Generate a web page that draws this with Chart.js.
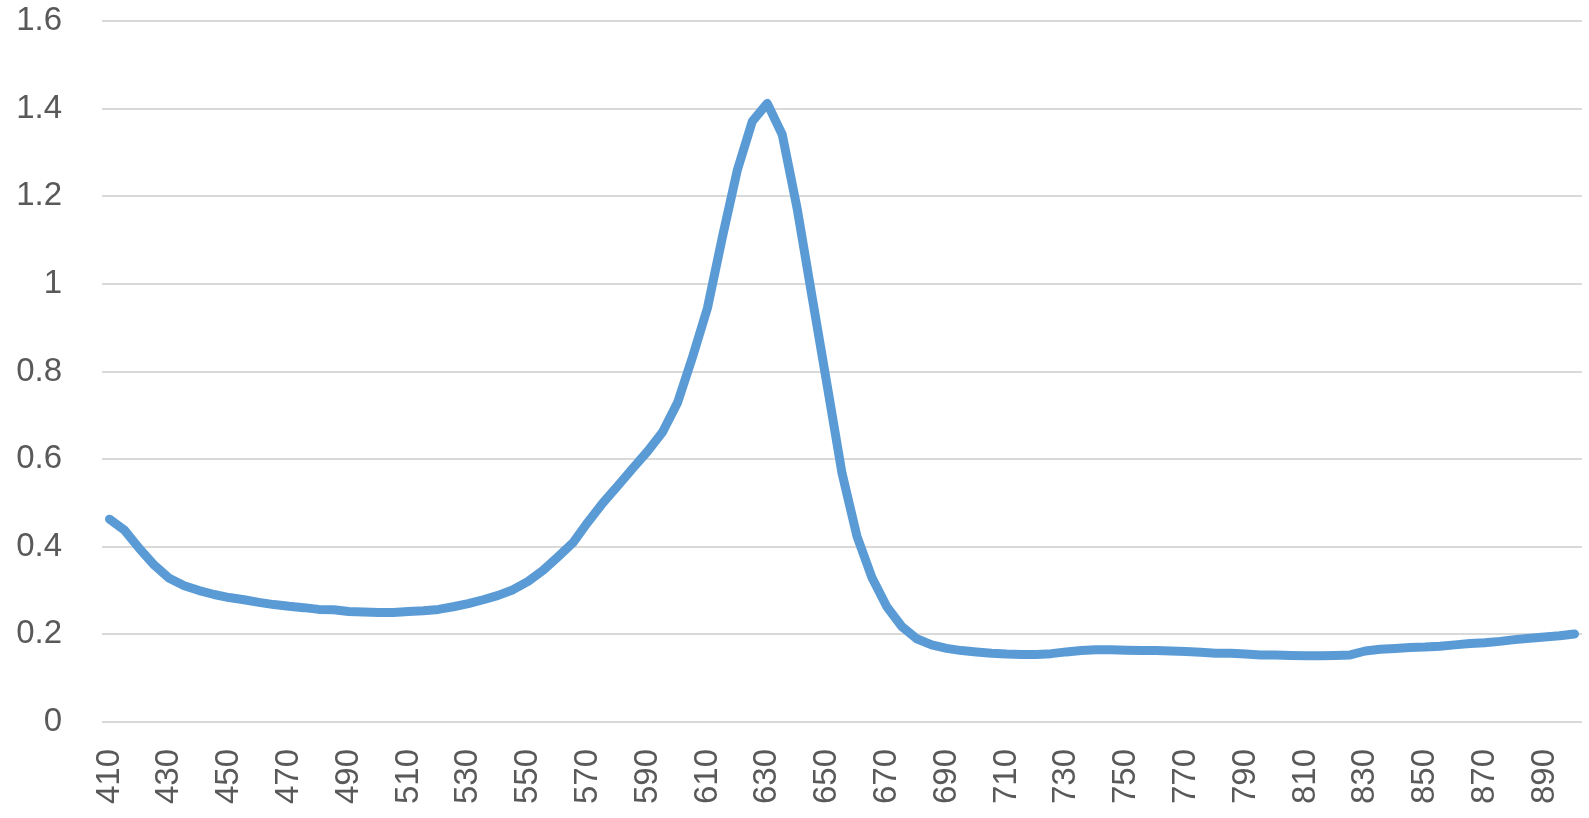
<!DOCTYPE html>
<html>
<head>
<meta charset="utf-8">
<script src="https://cdn.jsdelivr.net/npm/chart.js@4/dist/chart.umd.min.js"></script>
<style>
  html, body { margin: 0; padding: 0; background: #ffffff; }
  canvas { display: block; }
</style>
</head>
<body>
<canvas id="c" width="1589" height="818"></canvas>
<script>
// Wavelength categories (nm), every 5 nm from 410 to 900
const wavelengths = [
  410,415,420,425,430,435,440,445,450,455,460,465,470,475,480,485,490,495,500,505,
  510,515,520,525,530,535,540,545,550,555,560,565,570,575,580,585,590,595,600,605,
  610,615,620,625,630,635,640,645,650,655,660,665,670,675,680,685,690,695,700,705,
  710,715,720,725,730,735,740,745,750,755,760,765,770,775,780,785,790,795,800,805,
  810,815,820,825,830,835,840,845,850,855,860,865,870,875,880,885,890,895,900
];

// Series values
const absorbance = [
  0.463,0.438,0.396,0.358,0.328,0.311,0.300,0.291,0.284,0.279,0.273,0.268,0.264,0.261,0.257,0.256,0.252,0.251,0.250,0.250,
  0.252,0.254,0.257,0.263,0.270,0.279,0.289,0.302,0.321,0.346,0.377,0.409,0.456,0.500,0.539,0.579,0.618,0.662,0.729,0.833,
  0.945,1.107,1.260,1.371,1.412,1.341,1.172,0.970,0.770,0.568,0.424,0.330,0.263,0.218,0.190,0.176,0.168,0.163,0.160,0.157,
  0.155,0.154,0.154,0.156,0.160,0.163,0.165,0.165,0.164,0.163,0.163,0.162,0.161,0.159,0.157,0.157,0.155,0.153,0.153,0.152,
  0.151,0.151,0.152,0.153,0.162,0.166,0.168,0.170,0.171,0.173,0.176,0.179,0.181,0.184,0.188,0.191,0.194,0.197,0.201
];

// Axis settings
const yTicks = [0, 0.2, 0.4, 0.6, 0.8, 1, 1.2, 1.4, 1.6];
const labelEvery = 20;   // show every 20 nm label
const firstLabel = 410;

const FONT = "'Liberation Sans', Arial, sans-serif";
const TEXT = '#595959';

new Chart(document.getElementById('c'), {
  type: 'line',
  data: {
    labels: wavelengths,
    datasets: [{
      data: absorbance,
      borderColor: '#5b9bd5',
      borderWidth: 9,
      borderCapStyle: 'round',
      borderJoinStyle: 'round',
      pointRadius: 0,
      tension: 0,
      fill: false
    }]
  },
  options: {
    responsive: false,
    animation: false,
    devicePixelRatio: 1,
    layout: { padding: { top: 21, right: 7, left: 0, bottom: 0 } },
    plugins: { legend: { display: false }, tooltip: { enabled: false } },
    scales: {
      x: {
        type: 'category',
        offset: true,
        grid: { display: true, drawOnChartArea: false, drawTicks: true, tickLength: 27, tickColor: 'rgba(0,0,0,0)' },
        border: { display: false },
        ticks: {
          autoSkip: false,
          maxRotation: 90,
          minRotation: 90,
          padding: 0,
          color: TEXT,
          font: { family: FONT, size: 33, lineHeight: 1 },
          callback: function(v, i) {
            const w = wavelengths[i];
            return ((w - firstLabel) % labelEvery === 0) ? String(w) : null;
          }
        },
        afterFit: function(scale) { scale.height = 96; }
      },
      y: {
        min: 0,
        max: 1.6,
        grid: { color: '#d9d9d9', lineWidth: 2, drawTicks: true, tickLength: 40, tickColor: 'rgba(0,0,0,0)' },
        border: { display: false },
        afterBuildTicks: function(scale) {
          scale.ticks = yTicks.map(v => ({ value: v }));
        },
        ticks: {
          padding: 0,
          color: TEXT,
          font: { family: FONT, size: 33, lineHeight: 1 },
          callback: function(v) { return String(Number(v.toFixed(1))); }
        },
        afterFit: function(scale) { scale.width = 102; }
      }
    }
  }
});
</script>
</body>
</html>
